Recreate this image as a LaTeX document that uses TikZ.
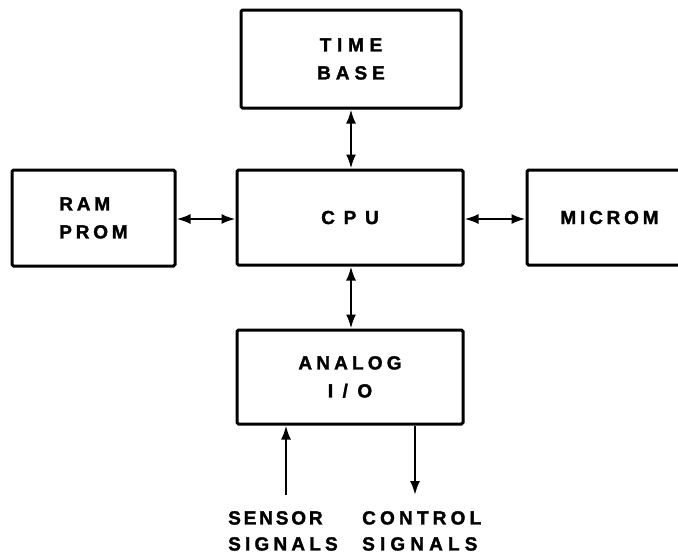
\documentclass[tikz,border=0pt]{standalone}
\usepackage{fontspec}
\setmainfont{Liberation Sans}
\newfontfamily\labfont[FakeBold=1.6]{Liberation Sans Bold}
\usetikzlibrary{arrows.meta}
\newcommand{\lsp}[1]{\addfontfeature{LetterSpace=#1}}
\tikzset{
  blk/.style={draw, line width=3pt, rounded corners=1.5pt, inner sep=0pt,
    font=\labfont\fontsize{19}{28}\selectfont, align=center},
  conn/.style={line width=2.2pt, {Latex[length=14pt,width=10pt]}-{Latex[length=14pt,width=10pt]}},
  oneway/.style={line width=2.2pt, -{Latex[length=14pt,width=10pt]}},
  lab/.style={font=\labfont\fontsize{19}{26}\selectfont, align=left, inner sep=0pt, anchor=north west}
}
\begin{document}
\begin{tikzpicture}[x=1pt,y=-1pt]
\useasboundingbox[fill=white] (0,0) rectangle (678,557);
\node[blk, minimum width=220pt, minimum height=98pt] (tb) at (351,59) {\lsp{30}TIME\\\lsp{26}BASE};
\node[blk, minimum width=226pt, minimum height=95pt] (cpu) at (350,217.5) {\lsp{46}CPU};
\node[blk, minimum width=163pt, minimum height=96pt, align=left] (ram) at (93.5,218) {\lsp{20}RAM\\\lsp{20}PROM};
\node[blk, minimum width=165pt, minimum height=95pt] (mic) at (609.5,217.5) {\lsp{20}MICROM};
\node[blk, minimum width=226pt, minimum height=94pt] (ana) at (350,377) {\lsp{22}ANALOG\\\lsp{50}I/O};
\draw[conn] (tb.south -| 351,0) -- (cpu.north -| 351,0);
\draw[conn] (cpu.south -| 351,0) -- (ana.north -| 351,0);
\draw[conn] (ram.east |- 0,219) -- (cpu.west |- 0,219);
\draw[conn] (cpu.east |- 0,219) -- (mic.west |- 0,219);
\coordinate (sin) at (286,495);
\coordinate (cout) at (415,495);
\draw[oneway] (sin) -- (ana.south -| sin);
\draw[oneway] (ana.south -| cout) -- (cout);
\node[lab] (sen) at (228,511) {\lsp{15}SENSOR\\\lsp{22}SIGNALS};
\node[lab] (con) at (362,511) {\lsp{22}CONTROL\\\lsp{27}SIGNALS};
\end{tikzpicture}
\end{document}
